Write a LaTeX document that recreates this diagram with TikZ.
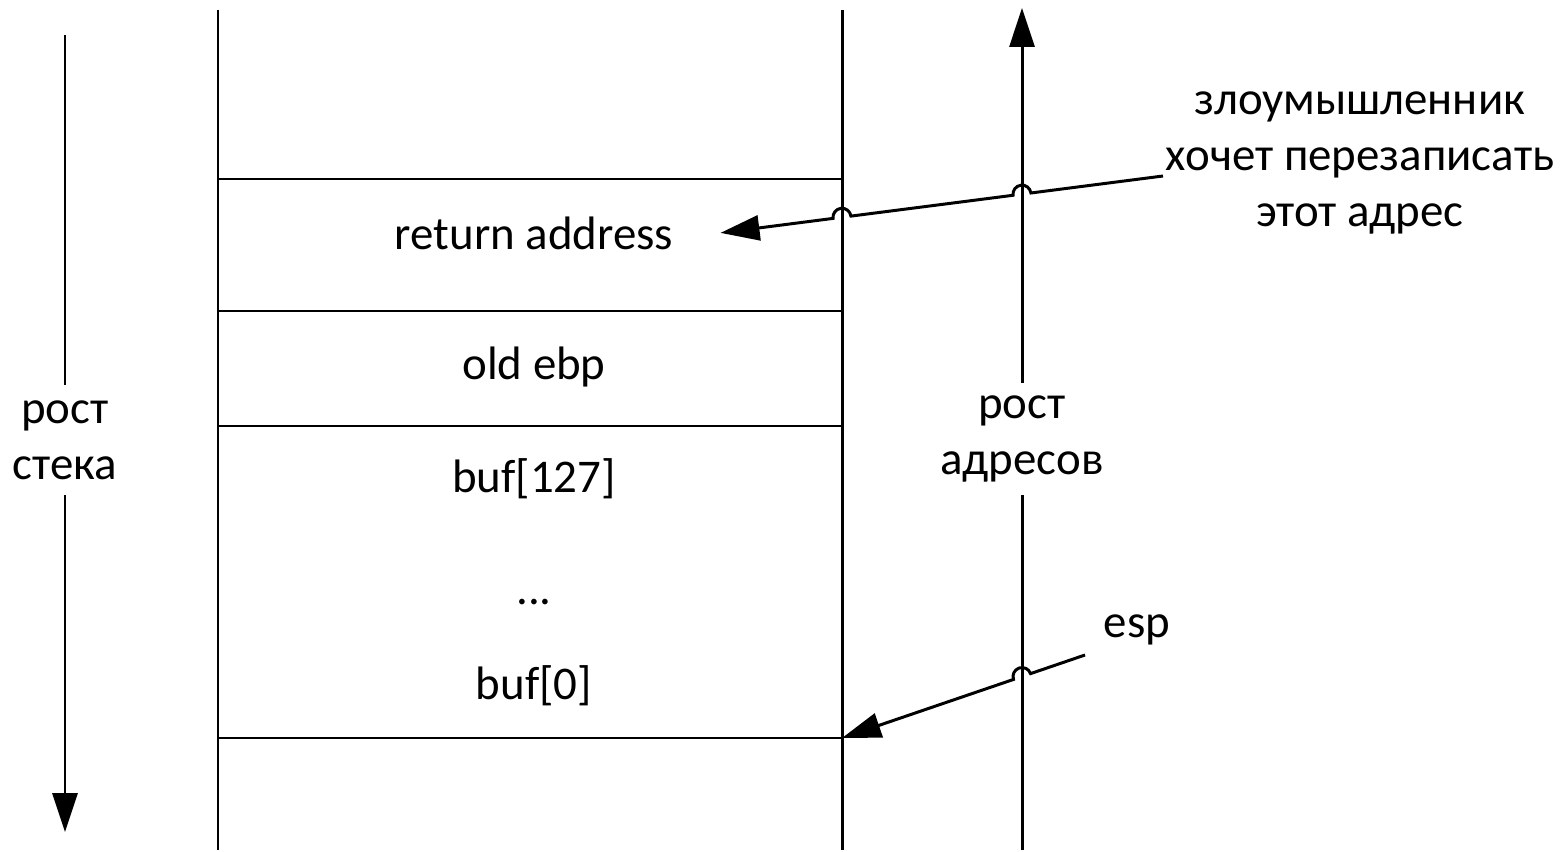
\documentclass[tikz,border=0pt]{standalone}
\usepackage{fontspec}
\setmainfont{Carlito}
\usetikzlibrary{arrows.meta,calc}
\tikzset{
  wire/.style={line width=1.7pt},
  pointer/.style={wire,-{Triangle[length=0.78cm,width=0.5cm]}},
  cell/.style={inner sep=0pt,anchor=base},
  note/.style={align=center,inner xsep=0pt,inner ysep=0.3cm},
}
\newcommand{\hopr}{0.18cm}
\begin{document}
\begin{tikzpicture}[x=0.02cm,y=-0.02cm,font=\fontsize{26.7}{31.9}\selectfont]
  \useasboundingbox (0,0) rectangle (1563,852);
  % stack frame
  \coordinate (wlt) at (218,10); \coordinate (wlb) at (218,850);
  \coordinate (wrt) at (842,10); \coordinate (wrb) at (842,850);
  \draw [wire] (wlt) -- (wlb);
  \draw [wire] (wrt) -- (wrb);
  \foreach \y/\n in {179/a,311/b,426/c,738/d} {
    \coordinate (l\n) at (218,\y);
    \coordinate (r\n) at (842,\y);
    \draw [wire] (l\n) -- (r\n);
  }
  \node [cell] (ret) at (534,249) {return address};
  \node [cell] (ebp) at (534,379) {old ebp};
  \node [cell] (top) at (534,492) {buf[127]};
  \node [cell] (dots) at (534,604) {...};
  \node [cell] (bot) at (534,699) {buf[0]};
  % stack growth
  \coordinate (gst) at (65,35); \coordinate (gsb) at (65,832);
  \node [note] (gs) at (65,440) {рост\\стека};
  \draw [wire] (gst) -- (gs.north);
  \draw [pointer] (gs.south) -- (gsb);
  % address growth
  \coordinate (axb) at (1022,850); \coordinate (axt) at (1022,8);
  \node [note,inner ysep=0.25cm] (ga) at (1022,439) {рост\\адресов};
  \draw [wire] (axb) -- (ga.south);
  \draw [pointer] (ga.north) -- (axt);
  % attacker
  \node [align=center,inner sep=0pt] (atkn) at (1360,163) {злоумышленник\\хочет перезаписать\\этот адрес};
  \coordinate (atk) at (1163,176);
  \coordinate (retp) at ($(ret.east)+(47,0)$);
  \coordinate (h1) at (intersection of atk--retp and wrt--wrb);
  \coordinate (h2) at (intersection of atk--retp and axt--axb);
  \draw [pointer] (atk) -- ($(h2)!\hopr!(atk)$)
    let \p1=($(atk)-(h2)$), \n1={atan2(\y1,\x1)} in
    arc [start angle=\n1, end angle=\n1+180, radius=\hopr]
    -- ($(h1)!\hopr!(atk)$)
    let \p1=($(atk)-(h1)$), \n1={atan2(\y1,\x1)} in
    arc [start angle=\n1, end angle=\n1+180, radius=\hopr]
    -- (retp);
  % stack pointer
  \node [cell] (esp) at (1137,637) {esp};
  \coordinate (espc) at (1085,655);
  \coordinate (h3) at (intersection of espc--rd and axt--axb);
  \draw [pointer] (espc) -- ($(h3)!\hopr!(espc)$)
    let \p1=($(espc)-(h3)$), \n1={atan2(\y1,\x1)} in
    arc [start angle=\n1, end angle=\n1+180, radius=\hopr]
    -- (rd);
\end{tikzpicture}
\end{document}
